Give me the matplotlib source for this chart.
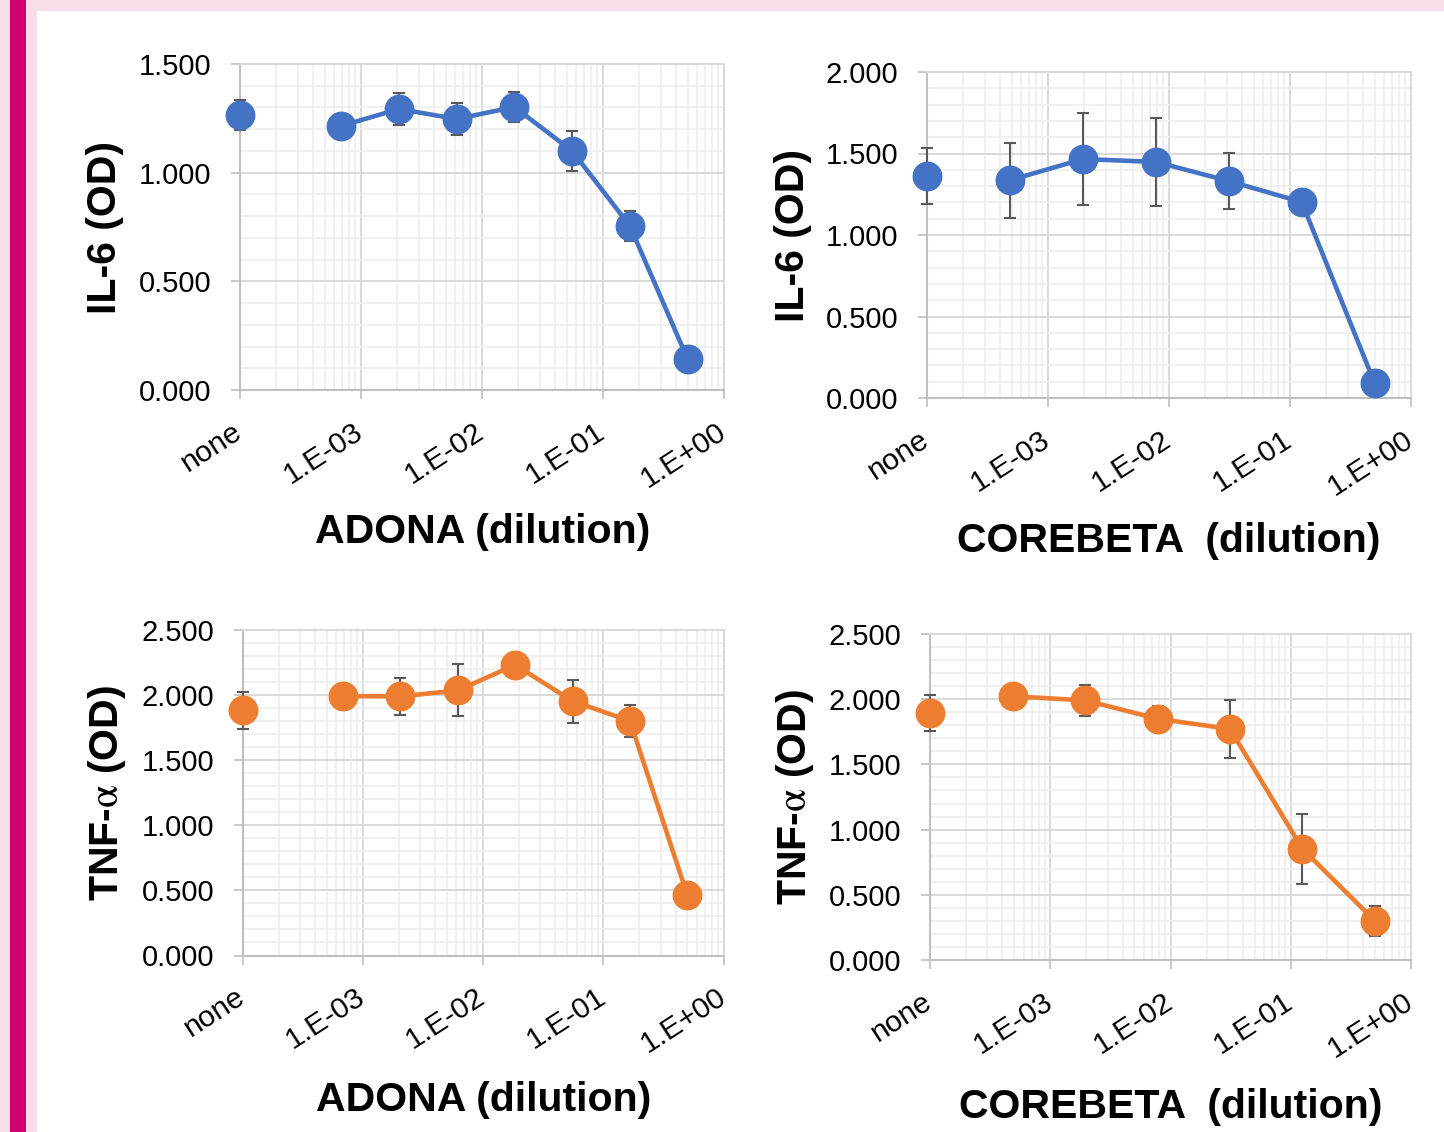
import numpy as np
import matplotlib
matplotlib.use("Agg")
import matplotlib.pyplot as plt
import matplotlib.ticker as mticker
import matplotlib.transforms as mtransforms
from matplotlib.patches import Rectangle

plt.rcParams["font.family"] = ["Liberation Sans", "DejaVu Sans"]
plt.rcParams["mathtext.fontset"] = "stix"

# ── Data ───────────────────────────────────────────────────────────────────────
NONE_POS = 1e-4  # the untreated control sits on the left edge of the log axis

x_ticks = [1e-4, 1e-3, 1e-2, 1e-1, 1e0]
x_tick_labels = ["none", "1.E-03", "1.E-02", "1.E-01", "1.E+00"]

adona_dilution = [1 / 1458, 1 / 486, 1 / 162, 1 / 54, 1 / 18, 1 / 6, 1 / 2]
corebeta_dilution = [1 / 2048, 1 / 512, 1 / 128, 1 / 32, 1 / 8, 1 / 2]

adona_il6_none, adona_il6_none_err = 1.265, 0.070
adona_il6 = [1.215, 1.293, 1.247, 1.302, 1.100, 0.755, 0.143]
adona_il6_err = [0.040, 0.075, 0.074, 0.068, 0.093, 0.070, 0.030]

corebeta_il6_none, corebeta_il6_none_err = 1.362, 0.170
corebeta_il6 = [1.337, 1.466, 1.448, 1.331, 1.202, 0.092]
corebeta_il6_err = [0.230, 0.280, 0.270, 0.170, 0.050, 0.030]

adona_tnf_none, adona_tnf_none_err = 1.883, 0.140
adona_tnf = [1.992, 1.990, 2.036, 2.232, 1.954, 1.801, 0.465]
adona_tnf_err = [0.050, 0.140, 0.200, 0.090, 0.165, 0.120, 0.050]

corebeta_tnf_none, corebeta_tnf_none_err = 1.896, 0.140
corebeta_tnf = [2.022, 1.991, 1.850, 1.772, 0.853, 0.301]
corebeta_tnf_err = [0.060, 0.120, 0.100, 0.220, 0.270, 0.115]

# ── Style ──────────────────────────────────────────────────────────────────────
BLUE = "#4472C4"
ORANGE = "#ED7D31"
ERR_GRAY = "#595959"
AXIS_GRAY = "#BFBFBF"
GRID_MAJOR = "#D9D9D9"
GRID_MINOR = "#EDEDED"
PINK_LIGHT = "#F7DDEA"
MAGENTA = "#D0006F"
YTICK_FONTSIZE = 21
XTICK_FONTSIZE = 21.5
LABEL_FONTSIZE = 29.5

W, H = 1444, 1132


def _px_rect(left, right, top, bottom):
    """Pixel box -> figure-fraction rect for add_axes."""
    return [left / W, 1 - bottom / H, (right - left) / W, (bottom - top) / H]


def _panel(ax, dilution, values, errors, none_val, none_err, color, ymax,
           ylabel, xlabel, xlabel_x, ylabel_x, xlabel_y):
    ax.set_xscale("log")
    ax.set_xlim(1e-4, 1)
    ax.set_ylim(0, ymax)

    ax.xaxis.set_major_locator(mticker.FixedLocator(x_ticks))
    ax.xaxis.set_major_formatter(mticker.FixedFormatter(x_tick_labels))
    ax.xaxis.set_minor_locator(mticker.LogLocator(base=10, subs=np.arange(2, 10), numticks=100))
    ax.xaxis.set_minor_formatter(mticker.NullFormatter())
    ax.yaxis.set_major_locator(mticker.MultipleLocator(0.5))
    ax.yaxis.set_minor_locator(mticker.MultipleLocator(0.1))
    ax.yaxis.set_major_formatter(mticker.FormatStrFormatter("%.3f"))

    ax.grid(which="major", color=GRID_MAJOR, linewidth=1.4)
    ax.grid(which="minor", color=GRID_MINOR, linewidth=1.2)
    ax.set_axisbelow(True)

    ax.tick_params(which="minor", length=0)
    ax.tick_params(which="major", length=6.5, width=1.2, color=AXIS_GRAY, labelcolor="black")
    ax.tick_params(axis="y", pad=14, labelsize=YTICK_FONTSIZE)
    ax.tick_params(axis="x", pad=13, labelsize=XTICK_FONTSIZE)
    shift = mtransforms.ScaledTranslation(-8 / 100, 0, ax.figure.dpi_scale_trans)
    for lbl in ax.get_xticklabels():
        lbl.set_rotation(33)
        lbl.set_ha("right")
        lbl.set_va("top")
        lbl.set_rotation_mode("anchor")
        lbl.set_transform(lbl.get_transform() + shift)

    for side in ("left", "bottom"):
        ax.spines[side].set_color(AXIS_GRAY)
        ax.spines[side].set_linewidth(1.5)
    for side in ("top", "right"):
        ax.spines[side].set_color(GRID_MAJOR)
        ax.spines[side].set_linewidth(1.4)

    # error bars sit behind the markers
    ax.errorbar([NONE_POS], [none_val], yerr=[none_err], fmt="none", ecolor=ERR_GRAY,
                elinewidth=1.5, capsize=4.5, capthick=1.5, zorder=3, clip_on=False)
    ax.errorbar(dilution, values, yerr=errors, fmt="none", ecolor=ERR_GRAY,
                elinewidth=1.5, capsize=4.5, capthick=1.5, zorder=3, clip_on=False)

    ax.plot([NONE_POS], [none_val], "o", color=color, markersize=20.5, zorder=4, clip_on=False)
    ax.plot(dilution, values, "-o", color=color, linewidth=3.3, markersize=20.5,
            zorder=4, clip_on=False)

    ax.set_ylabel(ylabel, fontsize=LABEL_FONTSIZE, fontweight="bold", va="center")
    ax.yaxis.set_label_coords(ylabel_x, 0.5)
    ax.set_xlabel(xlabel, fontsize=LABEL_FONTSIZE, fontweight="bold", va="center")
    ax.xaxis.set_label_coords(xlabel_x, xlabel_y)


fig = plt.figure(figsize=(W / 100, H / 100), dpi=100)
fig.patch.set_facecolor("white")

# pink frame of the poster
fig.patches.append(Rectangle((0, 1 - 11 / H), 1, 11 / H, transform=fig.transFigure,
                             facecolor=PINK_LIGHT, edgecolor="none", zorder=0))
fig.patches.append(Rectangle((0, 0), 37 / W, 1, transform=fig.transFigure,
                             facecolor=PINK_LIGHT, edgecolor="none", zorder=0))
fig.patches.append(Rectangle((9.5 / W, 0), 16 / W, 1, transform=fig.transFigure,
                             facecolor=MAGENTA, edgecolor="none", zorder=1))

ax1 = fig.add_axes(_px_rect(240, 724, 64, 390))
ax2 = fig.add_axes(_px_rect(927, 1411, 72, 398))
ax3 = fig.add_axes(_px_rect(242.5, 723.5, 630, 955.5))
ax4 = fig.add_axes(_px_rect(930, 1411, 634, 960))

il6_label = "IL-6 (OD)"
tnf_label = r"TNF-$\mathrm{\alpha}$ (OD)"

_panel(ax1, adona_dilution, adona_il6, adona_il6_err, adona_il6_none, adona_il6_none_err,
       BLUE, 1.5, il6_label, "ADONA (dilution)", 0.502, -0.279, -0.435)
_panel(ax2, corebeta_dilution, corebeta_il6, corebeta_il6_err, corebeta_il6_none,
       corebeta_il6_none_err, BLUE, 2.0, il6_label, "COREBETA  (dilution)", 0.5, -0.277, -0.44)
_panel(ax3, adona_dilution, adona_tnf, adona_tnf_err, adona_tnf_none, adona_tnf_none_err,
       ORANGE, 2.5, tnf_label, "ADONA (dilution)", 0.502, -0.282, -0.445)
_panel(ax4, corebeta_dilution, corebeta_tnf, corebeta_tnf_err, corebeta_tnf_none,
       corebeta_tnf_none_err, ORANGE, 2.5, tnf_label, "COREBETA  (dilution)",
       0.5, -0.281, -0.45)

fig.savefig("out.png", dpi=100, facecolor="white")
